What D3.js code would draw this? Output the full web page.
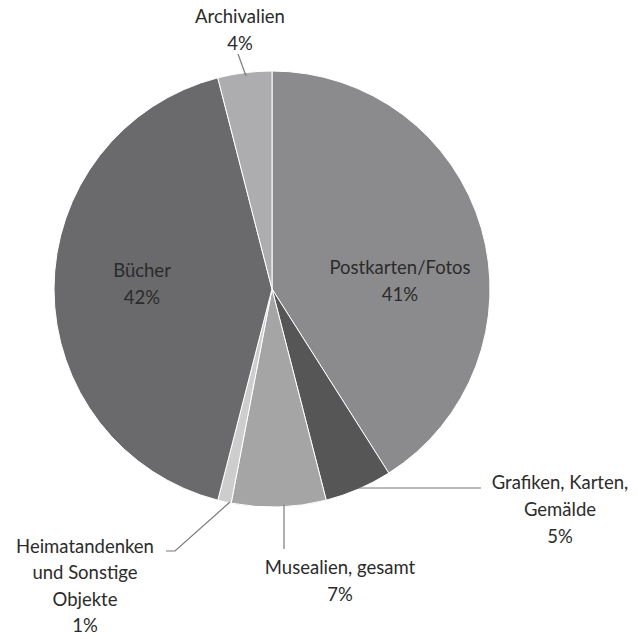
<!DOCTYPE html>
<html>
<head>
<meta charset="utf-8">
<script src="https://cdn.jsdelivr.net/npm/d3@7"></script>
<style>
body{margin:0;background:#fff;}
svg text{font-family:Lato,"Open Sans",sans-serif;font-size:18.5px;fill:#2b2b2b;}
</style>
</head>
<body>
<div id="chart"></div>
<script>
var categories = ["Postkarten/Fotos","Grafiken, Karten, Gemälde","Musealien, gesamt","Heimatandenken und Sonstige Objekte","Bücher","Archivalien"];
var values = [41,5,7,1,42,4];
var labelLines = [
  ["Postkarten/Fotos","41%"],
  ["Grafiken, Karten,","Gemälde","5%"],
  ["Musealien, gesamt","7%"],
  ["Heimatandenken","und Sonstige","Objekte","1%"],
  ["Bücher","42%"],
  ["Archivalien","4%"]
];
var colors = ["#8b8b8d","#565656","#a5a5a6","#cdcdcd","#6a6a6c","#adadaf"];

var w=638,h=639,cx=272,cy=289,radius=218;

var svg=d3.select("#chart").append("svg").attr("width",w).attr("height",h);
var g=svg.append("g").attr("transform","translate("+cx+","+cy+")");

var pie=d3.pie().value(function(d){return d;}).sort(null);
var arc=d3.arc().innerRadius(0).outerRadius(radius);
var arcs=pie(values);

g.selectAll("path").data(arcs).enter().append("path")
  .attr("d",arc)
  .attr("fill",function(d,i){return colors[i];})
  .attr("stroke","#fff")
  .attr("stroke-width",1);

// label positions (page pixels) and leader lines
var labelPos=[
  {x:400,y:274,lh:27},
  {x:560,y:489,lh:27,line:[[359,488],[481,488]]},
  {x:340,y:574,lh:27,line:[[284,505],[284,549]]},
  {x:85,y:553,lh:26.3,line:[[230,502],[175,551],[166,551]]},
  {x:142,y:277,lh:27},
  {x:240,y:23,lh:27,line:[[238,54],[246,76]]}
];

labelPos.forEach(function(p,i){
  if(p.line){
    svg.append("path")
      .attr("d",d3.line()(p.line))
      .attr("fill","none")
      .attr("stroke","#7a7a7a")
      .attr("stroke-width",1.2);
  }
  var t=svg.append("text").attr("text-anchor","middle");
  labelLines[i].forEach(function(s,j){
    t.append("tspan").attr("x",p.x).attr("y",p.y+j*p.lh).text(s);
  });
});
</script>
</body>
</html>
